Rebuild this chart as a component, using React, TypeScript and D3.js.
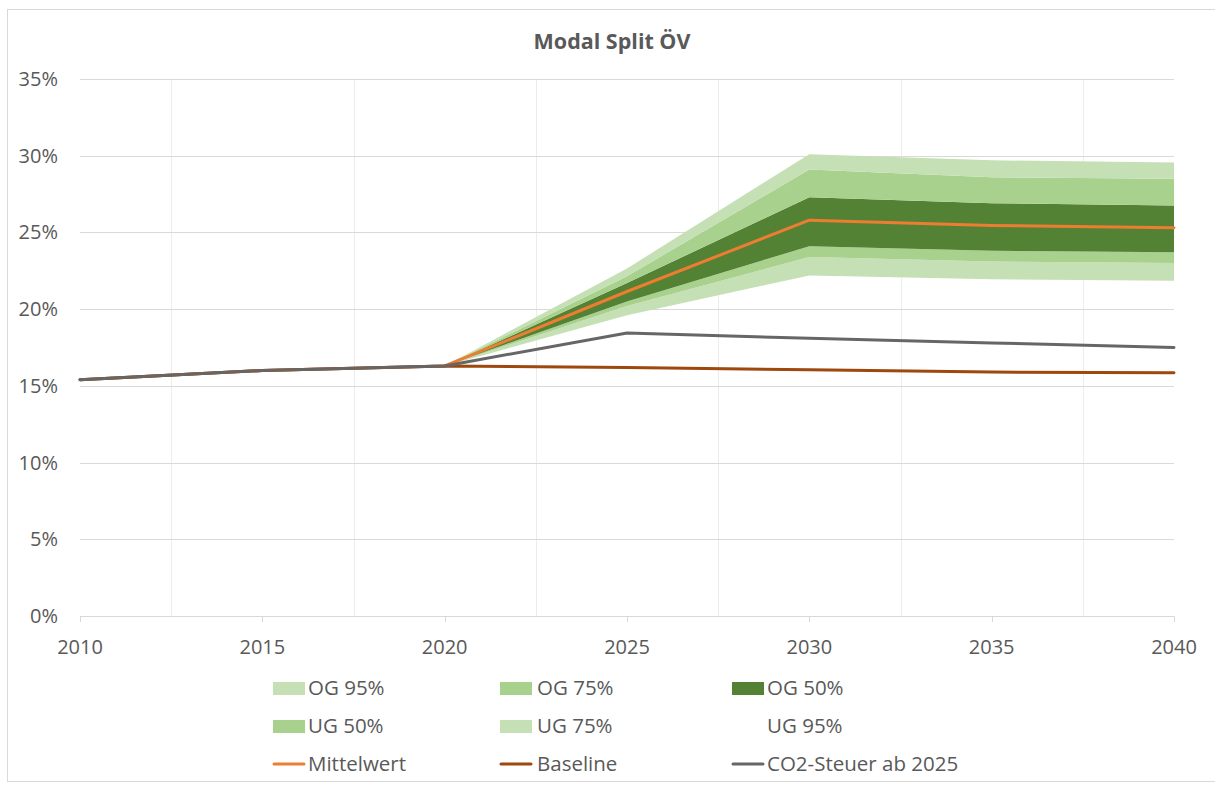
import React from "react";
import * as d3 from "d3";

const years = [2010, 2015, 2020, 2025, 2030, 2035, 2040];
const bandYears = [2020, 2025, 2030, 2035, 2040];

// stacked band increments (Excel stacked area, bottom to top)
const ug95 = [16.3, 19.6, 22.2, 21.95, 21.85];
const ug75 = [0, 0.6, 1.2, 1.15, 1.15];
const ug50 = [0, 0.3, 0.7, 0.7, 0.7];
const og50 = [0, 1.2, 3.2, 3.1, 3.05];
const og75 = [0, 0.45, 1.8, 1.7, 1.75];
const og95 = [0, 0.5, 1.0, 1.1, 1.05];

const mittelwert = [15.4, 16.0, 16.3, 21.15, 25.8, 25.45, 25.3];
const baseline = [15.4, 16.0, 16.3, 16.2, 16.05, 15.9, 15.85];
const co2 = [15.4, 16.0, 16.3, 18.45, 18.1, 17.8, 17.5];

const yTicks = [0, 5, 10, 15, 20, 25, 30, 35];
const xTicks = [2010, 2015, 2020, 2025, 2030, 2035, 2040];
const xGrid = [2012.5, 2017.5, 2022.5, 2027.5, 2032.5, 2037.5];

const bandKeys = ["UG 95%", "UG 75%", "UG 50%", "OG 50%", "OG 75%", "OG 95%"];
const bandSeries = [ug95, ug75, ug50, og50, og75, og95];
const bandColors: Record<string, string> = {
  "UG 95%": "none",
  "UG 75%": "#C5E0B4",
  "UG 50%": "#A9D18E",
  "OG 50%": "#548235",
  "OG 75%": "#A9D18E",
  "OG 95%": "#C5E0B4",
};

const lineSeries = [
  { name: "Mittelwert", values: mittelwert, color: "#ED7D31" },
  { name: "Baseline", values: baseline, color: "#9E480E" },
  { name: "CO2-Steuer ab 2025", values: co2, color: "#666666" },
];

const legendRows = [
  [
    { label: "OG 95%", type: "rect", color: "#C5E0B4" },
    { label: "OG 75%", type: "rect", color: "#A9D18E" },
    { label: "OG 50%", type: "rect", color: "#548235" },
  ],
  [
    { label: "UG 50%", type: "rect", color: "#A9D18E" },
    { label: "UG 75%", type: "rect", color: "#C5E0B4" },
    { label: "UG 95%", type: "none", color: "none" },
  ],
  [
    { label: "Mittelwert", type: "line", color: "#ED7D31" },
    { label: "Baseline", type: "line", color: "#9E480E" },
    { label: "CO2-Steuer ab 2025", type: "line", color: "#666666" },
  ],
];

const FONT = "'Open Sans', 'DejaVu Sans', sans-serif";
const TXT = "#595959";
const GRID = "#d9d9d9";
const VGRID = "#ececec";

export default function App() {
  const W = 1215;
  const H = 785;
  const left = 80, right = 1174, top = 79, bottom = 616;

  const x = d3.scaleLinear().domain([2010, 2040]).range([left, right]);
  const y = d3.scaleLinear().domain([0, 35]).range([bottom, top]);

  const table = bandYears.map((yr, i) => {
    const row: Record<string, number> = { year: yr };
    bandKeys.forEach((k, j) => (row[k] = bandSeries[j][i]));
    return row;
  });
  const stacked = d3.stack<Record<string, number>>().keys(bandKeys)(table);
  const area = d3
    .area<d3.SeriesPoint<Record<string, number>>>()
    .x((d) => x(d.data.year))
    .y0((d) => y(d[0]))
    .y1((d) => y(d[1]));

  const line = d3
    .line<number>()
    .x((_, i) => x(years[i]))
    .y((d) => y(d));

  const colX = [[273, 309], [500, 538], [732, 768]];
  const rowY = [688, 726, 764];

  return (
    <svg
      width={W}
      height={H}
      style={{ position: "absolute", left: 0, top: 0, background: "#fff" }}
      fontFamily={FONT}
    >
      <rect x={7.5} y={9.5} width={1220} height={772} fill="#fff" stroke={GRID} />
      <text x={612} y={49} textAnchor="middle" fontSize={21.5} fontWeight="bold" fill={TXT}>
        Modal Split ÖV
      </text>

      {xGrid.map((g) => (
        <line key={"xg" + g} x1={Math.round(x(g)) + 0.5} x2={Math.round(x(g)) + 0.5} y1={top} y2={bottom} stroke={VGRID} />
      ))}
      {yTicks.slice(1).map((t) => (
        <line key={"yg" + t} x1={left} x2={right} y1={Math.round(y(t)) + 0.5} y2={Math.round(y(t)) + 0.5} stroke={GRID} />
      ))}
      <line x1={left} x2={right} y1={bottom + 0.5} y2={bottom + 0.5} stroke={GRID} />
      {xTicks.map((t) => (
        <line key={"xt" + t} x1={Math.round(x(t)) + 0.5} x2={Math.round(x(t)) + 0.5} y1={bottom} y2={bottom + 6} stroke={GRID} />
      ))}

      {yTicks.map((t) => (
        <text key={"yl" + t} x={58} y={y(t) + 7} textAnchor="end" fontSize={20} fill={TXT}>
          {t + "%"}
        </text>
      ))}
      {xTicks.map((t) => (
        <text key={"xl" + t} x={x(t)} y={654} textAnchor="middle" fontSize={20} fill={TXT}>
          {t}
        </text>
      ))}

      {stacked.map((s) => (
        <path key={s.key} d={area(s) || ""} fill={bandColors[s.key]} stroke="none" />
      ))}

      {lineSeries.map((s) => (
        <path
          key={s.name}
          d={line(s.values) || ""}
          fill="none"
          stroke={s.color}
          strokeWidth={3}
          strokeLinejoin="round"
          strokeLinecap="round"
        />
      ))}

      {legendRows.map((row, ri) =>
        row.map((item, ci) => {
          const [sx, tx] = colX[ci];
          const cy = rowY[ri];
          return (
            <g key={item.label}>
              {item.type === "rect" && (
                <rect x={sx} y={cy - 6} width={32} height={13} fill={item.color} />
              )}
              {item.type === "line" && (
                <line x1={sx + 1} x2={sx + 31} y1={cy} y2={cy} stroke={item.color} strokeWidth={3} strokeLinecap="round" />
              )}
              <text x={tx - 1} y={cy + 7} fontSize={20.5} fill={TXT}>
                {item.label}
              </text>
            </g>
          );
        })
      )}
    </svg>
  );
}
